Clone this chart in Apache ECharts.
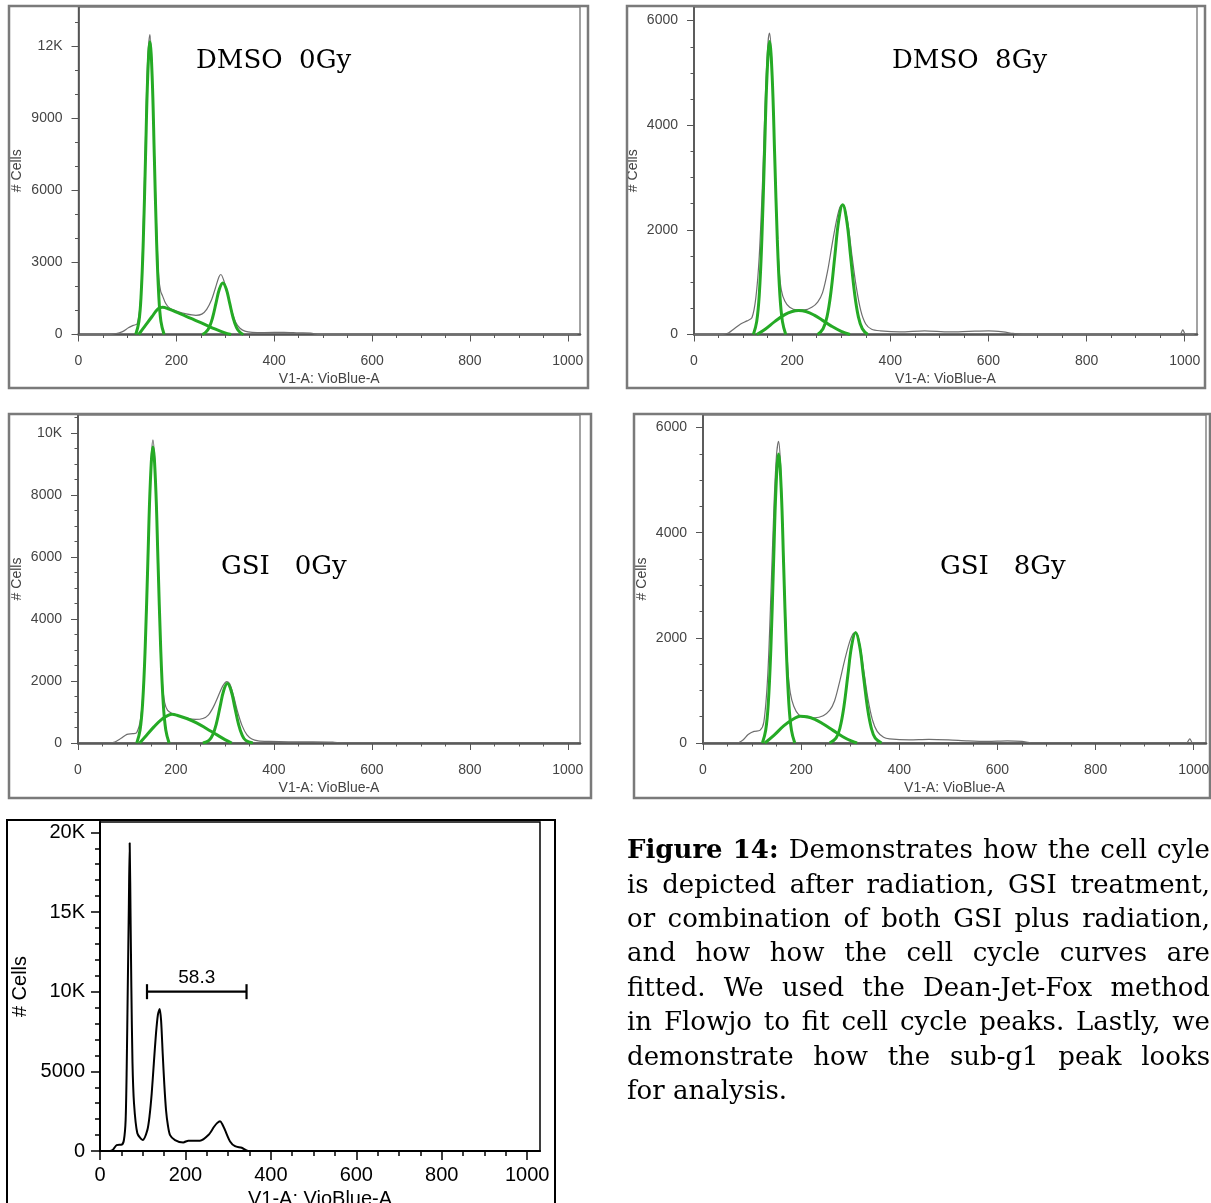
<!DOCTYPE html>
<html>
<head>
<meta charset="utf-8">
<title>Cell cycle histograms</title>
<script src="https://cdn.jsdelivr.net/npm/echarts@6/dist/echarts.min.js"></script>
<style>
  html, body { margin: 0; padding: 0; background: #fff; overflow: hidden; }
  #top { position: absolute; left: 0; top: 0; width: 1211px; height: 805px; filter: blur(0.5px); }
  #bottom { position: absolute; left: 0; top: 800px; width: 1211px; height: 403px; }
</style>
</head>
<body>
<div id="top"></div>
<div id="bottom"></div>
<script>
// ---------- axis ticks and labels ----------
const xAxisName = 'V1-A: VioBlue-A';
const yAxisName = '# Cells';
const xTickValues = [0, 200, 400, 600, 800, 1000];
const xTickLabels = ['0', '200', '400', '600', '800', '1000'];

const dmso0YTicks = [0, 3000, 6000, 9000, 12000];
const dmso0YLabels = ['0', '3000', '6000', '9000', '12K'];
const dmso8YTicks = [0, 2000, 4000, 6000];
const dmso8YLabels = ['0', '2000', '4000', '6000'];
const gsi0YTicks = [0, 2000, 4000, 6000, 8000, 10000];
const gsi0YLabels = ['0', '2000', '4000', '6000', '8000', '10K'];
const gsi8YTicks = [0, 2000, 4000, 6000];
const gsi8YLabels = ['0', '2000', '4000', '6000'];
const subG1YTicks = [0, 5000, 10000, 15000, 20000];
const subG1YLabels = ['0', '5000', '10K', '15K', '20K'];

const panelTitles = ['DMSO  0Gy', 'DMSO  8Gy', 'GSI   0Gy', 'GSI   8Gy'];

// ---------- DMSO 0Gy: measured histogram and fitted G1 / S / G2 components ----------
const dmso0Hist = [[0,0],[60,0],[75,30],[90,120],[102,280],[112,380],[120,450],[127,1500],[132,4200],[137,8200],[141,11300],[146,12500],[150,11200],[155,7600],[160,4200],[164,2400],[168,1800],[172,1600],[178,1300],[186,1100],[200,980],[220,860],[240,800],[252,850],[262,1050],[272,1450],[280,1950],[287,2400],[291,2500],[297,2250],[305,1650],[313,1000],[321,520],[330,260],[340,140],[355,90],[380,80],[420,90],[450,70],[475,60],[485,10],[500,0],[1020,0]];
const dmso0G1 = [[117,0],[123.5,540],[128,1650],[132.5,3960],[137,7400],[141.5,10770],[146,12200],[150.5,10770],[155,7400],[159.5,3960],[164,1650],[168.5,540],[175,0]];
const dmso0S = [[123,0],[135,330],[150,740],[163,1080],[172,1140],[185,1060],[200,930],[220,760],[240,580],[260,400],[280,220],[298,80],[312,0]];
const dmso0G2 = [[253,0],[260,94],[267,291],[274,698],[281,1304],[288,1897],[295,2150],[302,1897],[309,1304],[316,698],[323,291],[330,94],[337,0]];

// ---------- DMSO 8Gy ----------
const dmso8Hist = [[0,0],[55,0],[70,30],[82,110],[95,200],[108,260],[118,320],[126,700],[133,1500],[140,3000],[146,4700],[151,5600],[154,5760],[158,5300],[163,3900],[168,2400],[173,1300],[178,850],[185,640],[195,520],[210,470],[225,470],[240,520],[252,620],[262,800],[272,1200],[282,1750],[292,2250],[300,2470],[306,2450],[314,2100],[322,1500],[330,950],[340,450],[350,200],[362,100],[380,70],[420,50],[470,70],[520,50],[560,60],[600,70],[630,50],[650,20],[670,0],[990,0],[996,90],[1002,0],[1020,0]];
const dmso8G1 = [[121,0],[127.75,246],[133,758],[138.25,1818],[143.5,3396],[148.75,4942],[154,5600],[159.25,4942],[164.5,3396],[169.75,1818],[175,758],[180.25,246],[187,0]];
const dmso8S = [[128,0],[145,100],[165,250],[185,380],[200,440],[213,460],[228,440],[245,370],[262,270],[280,160],[300,60],[318,0]];
const dmso8G2 = [[252,0],[263,109],[271,336],[279,805],[287,1504],[295,2189],[303,2480],[311,2189],[319,1504],[327,805],[335,336],[343,109],[354,0]];

// ---------- GSI 0Gy ----------
const gsi0Hist = [[0,0],[60,0],[75,30],[88,150],[100,280],[112,300],[120,340],[128,800],[135,2200],[141,4800],[146,7600],[150,9300],[153,9780],[157,9000],[162,6600],[167,3800],[172,2000],[177,1300],[183,1050],[192,950],[205,880],[222,800],[240,760],[255,790],[266,900],[276,1150],[286,1500],[296,1850],[304,1980],[310,1900],[318,1500],[326,1000],[335,560],[345,260],[355,130],[368,70],[390,50],[430,40],[480,40],[520,30],[540,0],[1020,0]];
const gsi0G1 = [[120,0],[126.75,419],[132,1292],[137.25,3101],[142.5,5792],[147.75,8428],[153,9550],[158.25,8428],[163.5,5792],[168.75,3101],[174,1292],[179.25,419],[186,0]];
const gsi0S = [[126,0],[140,250],[155,520],[172,780],[185,900],[192,930],[205,880],[222,790],[242,650],[262,470],[283,270],[300,110],[314,0]];
const gsi0G2 = [[255,0],[267.5,84],[275,260],[282.5,623],[290,1164],[297.5,1694],[305,1920],[312.5,1694],[320,1164],[327.5,623],[335,260],[342.5,84],[357,0]];

// ---------- GSI 8Gy ----------
const gsi8Hist = [[0,0],[70,0],[82,60],[92,160],[104,220],[116,240],[124,400],[132,1300],[139,3000],[145,4600],[150,5500],[154,5740],[158,5300],[163,3900],[168,2400],[173,1400],[178,950],[185,700],[195,540],[210,480],[228,480],[245,520],[258,620],[268,800],[278,1150],[288,1550],[298,1900],[306,2080],[312,2100],[320,1850],[328,1350],[336,850],[345,450],[355,220],[368,110],[380,80],[420,60],[460,70],[500,60],[540,40],[580,30],[620,40],[650,30],[670,0],[985,0],[992,80],[998,0],[1020,0]];
const gsi8G1 = [[121,0],[127.75,241],[133,744],[138.25,1786],[143.5,3336],[148.75,4854],[154,5500],[159.25,4854],[164.5,3336],[169.75,1786],[175,744],[180.25,241],[187,0]];
const gsi8S = [[126,0],[145,150],[165,330],[185,460],[198,510],[212,500],[228,450],[245,360],[265,240],[285,120],[302,40],[314,0]];
const gsi8G2 = [[258,0],[271,92],[279,284],[287,682],[295,1274],[303,1853],[311,2100],[319,1853],[327,1274],[335,682],[343,284],[351,92],[364,0]];

// ---------- sub-G1 example histogram with gate ----------
const subG1Hist = [[8,0],[25,20],[31,100],[39,370],[51,400],[56,690],[60,1940],[62.5,5200],[65,10270],[67.5,15300],[69.5,19330],[71.5,14800],[73.4,10270],[76,5600],[79.6,3000],[87.4,1120],[100,690],[110.8,1310],[116,2200],[121,3600],[126,5500],[131,7350],[135.5,8550],[139.7,8920],[143,8200],[146.8,6100],[150.5,4200],[154.6,2560],[159,1600],[164,1000],[175.6,690],[195,540],[206.8,650],[234,650],[253.7,1000],[267,1520],[274,1750],[281,1870],[286,1700],[292.7,1310],[304.5,600],[316,300],[331.8,200],[347,0],[1016,0]];
const gateRange = [110, 343];
const gateLevel = 10000;
const gateLabel = '58.3';

// ---------- caption ----------
const captionLines = [
  'Figure 14: Demonstrates how the cell cyle',
  'is depicted after radiation, GSI treatment,',
  'or combination of both GSI plus radiation,',
  'and how how the cell cycle curves are',
  'fitted.  We used the Dean-Jet-Fox method',
  'in Flowjo to fit cell cycle peaks.  Lastly, we',
  'demonstrate how the sub-g1 peak looks',
  'for analysis.'
];
const captionBoldWords = 2;

// ---------- helpers ----------
function steps(limit, step) {
  const out = [];
  for (let v = 0; v <= limit + 1e-9; v += step) out.push(v);
  return out;
}

function buildAxes(gi, xMax, yMax, yTicks, yLabels, yMinorStep, st) {
  const xMinor = steps(1000, 50);
  const yMinor = steps(yMax, yMinorStep);
  const xAxes = [
    {
      type: 'value', gridIndex: gi, min: 0, max: xMax, position: 'bottom',
      axisLine: { show: true, onZero: false, lineStyle: { color: st.xLine, width: st.xLineWidth } },
      axisTick: { show: true, customValues: xTickValues, length: st.majorTick, lineStyle: { color: st.tick, width: st.tickWidth } },
      axisLabel: { show: true, customValues: xTickValues, formatter: v => xTickLabels[xTickValues.indexOf(v)],
                   margin: st.xLabelMargin, color: st.text, fontSize: st.font, fontFamily: st.family },
      splitLine: { show: false },
      name: xAxisName, nameLocation: 'middle', nameGap: st.xNameGap,
      nameTextStyle: { color: st.text, fontSize: st.nameFont, fontFamily: st.family }
    },
    {
      type: 'value', gridIndex: gi, min: 0, max: xMax, position: 'bottom',
      axisLine: { show: false },
      axisTick: { show: true, customValues: xMinor, length: st.minorTick, lineStyle: { color: st.tick, width: st.tickWidth } },
      axisLabel: { show: false }, splitLine: { show: false }
    }
  ];
  const yAxes = [
    {
      type: 'value', gridIndex: gi, min: 0, max: yMax, position: 'left',
      axisLine: { show: true, onZero: false, lineStyle: { color: st.yLine, width: st.yLineWidth } },
      axisTick: { show: true, customValues: yTicks, length: st.majorTick, lineStyle: { color: st.tick, width: st.tickWidth } },
      axisLabel: { show: true, customValues: yTicks, formatter: v => yLabels[yTicks.indexOf(v)],
                   margin: st.yLabelMargin, color: st.text, fontSize: st.font, fontFamily: st.family },
      splitLine: { show: false },
      name: yAxisName, nameLocation: 'middle', nameGap: st.yNameGap,
      nameTextStyle: { color: st.text, fontSize: st.nameFont, fontFamily: st.family }
    },
    {
      type: 'value', gridIndex: gi, min: 0, max: yMax, position: 'left',
      axisLine: { show: false },
      axisTick: { show: true, customValues: yMinor, length: st.minorTick, lineStyle: { color: st.tick, width: st.tickWidth } },
      axisLabel: { show: false }, splitLine: { show: false }
    }
  ];
  return { xAxes, yAxes };
}

function lineSeries(gi, data, color, width, z, smooth) {
  return {
    type: 'line', xAxisIndex: 2 * gi, yAxisIndex: 2 * gi, data: data,
    symbol: 'none', showSymbol: false, smooth: smooth, clip: true, silent: true, z: z,
    lineStyle: { color: color, width: width }
  };
}

// ---------- top block: four fitted cell cycle panels ----------
const fitGreen = '#25aa25';
const histGrey = '#6e6e6e';
const topStyle = {
  xLine: '#555', xLineWidth: 2.5, yLine: '#444', yLineWidth: 1.5,
  tick: '#555', tickWidth: 1, majorTick: 7, minorTick: 3.5,
  text: '#444', font: 14, nameFont: 14, family: '"Liberation Sans", Arial, sans-serif',
  xLabelMargin: 20, xNameGap: 38, yLabelMargin: 16, yNameGap: 54
};

const panels = [
  { hist: dmso0Hist, g1: dmso0G1, s: dmso0S, g2: dmso0G2, yTicks: dmso0YTicks, yLabels: dmso0YLabels, yMinorStep: 1000,
    grid: { left: 78.5, top: 7, width: 501.5, height: 327.5 }, xMax: 1025, yMax: 13650,
    frame: [9, 6, 579, 382], titleAt: [196, 61] },
  { hist: dmso8Hist, g1: dmso8G1, s: dmso8S, g2: dmso8G2, yTicks: dmso8YTicks, yLabels: dmso8YLabels, yMinorStep: 500,
    grid: { left: 694, top: 7, width: 503, height: 327.5 }, xMax: 1025, yMax: 6260,
    frame: [627, 6, 578, 382], titleAt: [892, 61] },
  { hist: gsi0Hist, g1: gsi0G1, s: gsi0S, g2: gsi0G2, yTicks: gsi0YTicks, yLabels: gsi0YLabels, yMinorStep: 500,
    grid: { left: 78, top: 415, width: 502, height: 328 }, xMax: 1025, yMax: 10580,
    frame: [9, 414, 582, 384], titleAt: [221, 567] },
  { hist: gsi8Hist, g1: gsi8G1, s: gsi8S, g2: gsi8G2, yTicks: gsi8YTicks, yLabels: gsi8YLabels, yMinorStep: 500,
    grid: { left: 703, top: 415, width: 503, height: 328 }, xMax: 1025, yMax: 6240,
    frame: [634, 414, 576, 384], titleAt: [940, 567] }
];

const topOption = {
  animation: false,
  backgroundColor: 'transparent',
  textStyle: { fontFamily: '"Liberation Sans", Arial, sans-serif' },
  grid: [], xAxis: [], yAxis: [], series: [], graphic: []
};

panels.forEach((p, gi) => {
  topOption.grid.push(Object.assign({
    show: true, borderColor: '#858585', borderWidth: 1.5, backgroundColor: 'transparent',
    containLabel: false, outerBoundsMode: 'none'
  }, p.grid));
  const ax = buildAxes(gi, p.xMax, p.yMax, p.yTicks, p.yLabels, p.yMinorStep, topStyle);
  topOption.xAxis.push(...ax.xAxes);
  topOption.yAxis.push(...ax.yAxes);
  topOption.series.push(
    lineSeries(gi, p.hist, histGrey, 1.2, 2, 0.3),
    lineSeries(gi, p.s, fitGreen, 3, 3, 0.4),
    lineSeries(gi, p.g2, fitGreen, 3, 3, 0.4),
    lineSeries(gi, p.g1, fitGreen, 3, 4, 0.4)
  );
  topOption.graphic.push({
    type: 'rect', silent: true, z: 10,
    shape: { x: p.frame[0], y: p.frame[1], width: p.frame[2], height: p.frame[3] },
    style: { fill: 'none', stroke: '#7a7a7a', lineWidth: 2.5 }
  });
  topOption.graphic.push({
    type: 'text', silent: true, z: 10, x: p.titleAt[0], y: p.titleAt[1],
    style: { text: panelTitles[gi], font: '26px "DejaVu Serif", serif', fill: '#000', align: 'left', verticalAlign: 'middle' }
  });
});

const topChart = echarts.init(document.getElementById('top'), null, { renderer: 'canvas', width: 1211, height: 805 });
topChart.setOption(topOption);

// ---------- bottom block: sub-G1 histogram and caption ----------
const subStyle = {
  xLine: '#000', xLineWidth: 2, yLine: '#000', yLineWidth: 2,
  tick: '#000', tickWidth: 1.5, majorTick: 9, minorTick: 5,
  text: '#000', font: 20, nameFont: 20, family: '"Liberation Sans", Arial, sans-serif',
  xLabelMargin: 14, xNameGap: 35, yLabelMargin: 15, yNameGap: 70
};
const subAxes = buildAxes(0, 1030, 20650, subG1YTicks, subG1YLabels, 1000, subStyle);

const captionFamily = '"DejaVu Serif", serif';
const captionSize = 26;
const capLeft = 627, capRight = 1210, capFirstMiddle = 51.5, capStep = 34.4;
const measureCtx = document.createElement('canvas').getContext('2d');
function captionFont(bold) { return (bold ? 'bold ' : '') + captionSize + 'px ' + captionFamily; }
function wordWidth(w, bold) { measureCtx.font = captionFont(bold); return measureCtx.measureText(w).width; }

const captionEls = [];
captionLines.forEach((line, i) => {
  const words = line.split(/\s+/);
  const bolds = words.map((w, k) => i === 0 && k < captionBoldWords);
  const widths = words.map((w, k) => wordWidth(w, bolds[k]));
  const total = widths.reduce((a, b) => a + b, 0);
  const isLast = i === captionLines.length - 1;
  const gap = isLast ? wordWidth(' ', false) : (capRight - capLeft - total) / (words.length - 1);
  let x = capLeft;
  words.forEach((w, k) => {
    captionEls.push({
      type: 'text', silent: true, x: x, y: capFirstMiddle + i * capStep,
      style: { text: w, font: captionFont(bolds[k]), fill: '#000', align: 'left', verticalAlign: 'middle' }
    });
    x += widths[k] + gap;
  });
});

const bottomOption = {
  animation: false,
  backgroundColor: 'transparent',
  textStyle: { fontFamily: '"Liberation Sans", Arial, sans-serif' },
  grid: [{ show: true, borderColor: '#000', borderWidth: 1.5, backgroundColor: 'transparent',
           left: 100, top: 22, width: 440, height: 329, containLabel: false, outerBoundsMode: 'none' }],
  xAxis: subAxes.xAxes,
  yAxis: subAxes.yAxes,
  series: [
    lineSeries(0, subG1Hist, '#000', 2, 3, 0.25),
    {
      type: 'custom', xAxisIndex: 0, yAxisIndex: 0, silent: true, z: 5,
      data: [[gateRange[0], gateRange[1], gateLevel]],
      renderItem: (params, api) => {
        const a = api.coord([api.value(0), api.value(2)]);
        const b = api.coord([api.value(1), api.value(2)]);
        const cap = 7.5;
        const ls = { stroke: '#000', lineWidth: 2.2 };
        return {
          type: 'group', children: [
            { type: 'line', shape: { x1: a[0], y1: a[1], x2: b[0], y2: b[1] }, style: ls },
            { type: 'line', shape: { x1: a[0], y1: a[1] - cap, x2: a[0], y2: a[1] + cap }, style: ls },
            { type: 'line', shape: { x1: b[0], y1: b[1] - cap, x2: b[0], y2: b[1] + cap }, style: ls },
            { type: 'text', x: (a[0] + b[0]) / 2, y: a[1] - 4,
              style: { text: gateLabel, fill: '#000', font: '19px "Liberation Sans", Arial, sans-serif', align: 'center', verticalAlign: 'bottom' } }
          ]
        };
      }
    }
  ],
  graphic: [
    { type: 'rect', silent: true, z: 10, shape: { x: 7, y: 20, width: 548, height: 400 },
      style: { fill: 'none', stroke: '#000', lineWidth: 2 } }
  ].concat(captionEls)
};

const bottomChart = echarts.init(document.getElementById('bottom'), null, { renderer: 'canvas', width: 1211, height: 403 });
bottomChart.setOption(bottomOption);
</script>
</body>
</html>
